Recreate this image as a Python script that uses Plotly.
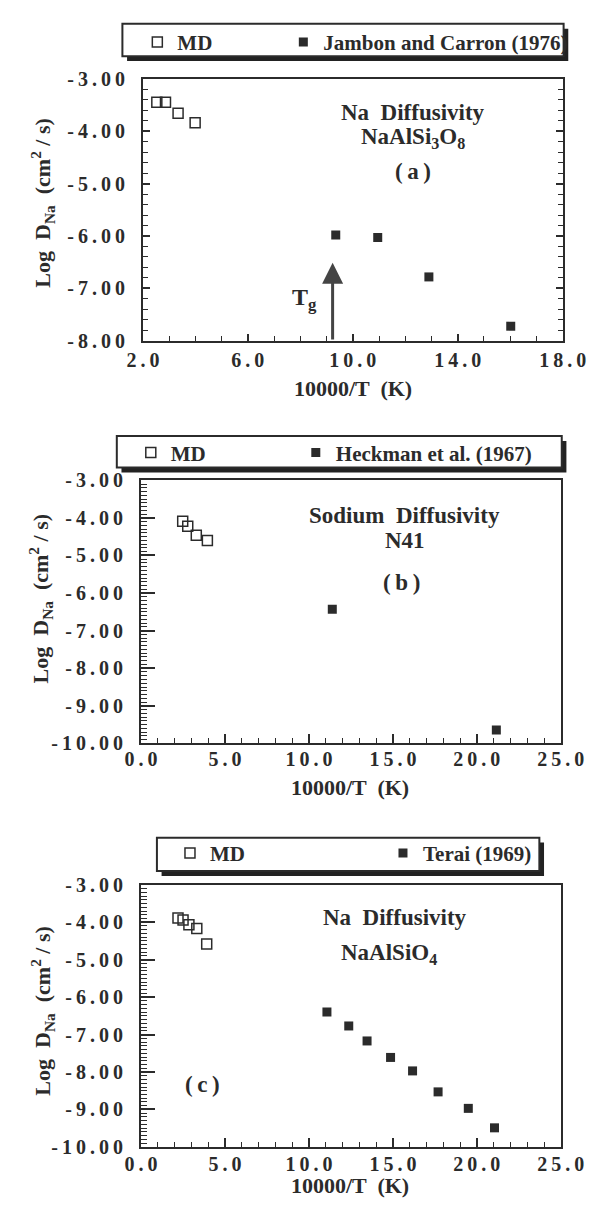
import plotly.graph_objects as go

W, H = 610, 1208
THIN = "\u2009"
FONT = "Liberation Serif, Times New Roman, serif"
INK = "#2b2b2b"

# ---------------- data ----------------
# Panel (a): NaAlSi3O8
A_MD_X = [2.53, 2.86, 3.34, 3.99]
A_MD_Y = [-3.45, -3.45, -3.66, -3.84]
A_EXP_X = [9.35, 10.95, 12.90, 16.02]
A_EXP_Y = [-5.98, -6.03, -6.78, -7.72]
A_EXP_NAME = "Jambon and Carron (1976)"
A_TG_X = 9.23
A_TG_TIP_Y = -6.51
A_XTICKS = [2, 6, 10, 14, 18]
A_XTICKTEXT = ["2.0", "6.0", "10.0", "14.0", "18.0"]
A_YTICKS = [-3, -4, -5, -6, -7, -8]
A_YTICKTEXT = ["-3.00", "-4.00", "-5.00", "-6.00", "-7.00", "-8.00"]

# Panel (b): N41
B_MD_X = [2.48, 2.78, 3.29, 3.95]
B_MD_Y = [-4.09, -4.22, -4.46, -4.60]
B_EXP_X = [11.39, 21.16]
B_EXP_Y = [-6.43, -9.64]
B_EXP_NAME = "Heckman et al. (1967)"

# Panel (c): NaAlSiO4
C_MD_X = [2.20, 2.50, 2.85, 3.32, 3.91]
C_MD_Y = [-3.89, -3.94, -4.07, -4.17, -4.58]
C_EXP_X = [11.07, 12.37, 13.46, 14.86, 16.17, 17.69, 19.49, 21.05]
C_EXP_Y = [-6.40, -6.77, -7.17, -7.61, -7.97, -8.53, -8.97, -9.49]
C_EXP_NAME = "Terai (1969)"

BC_XTICKS = [0, 5, 10, 15, 20, 25]
BC_XTICKTEXT = ["0.0", "5.0", "10.0", "15.0", "20.0", "25.0"]
BC_YTICKS = [-3, -4, -5, -6, -7, -8, -9, -10]
BC_YTICKTEXT = ["-3.00", "-4.00", "-5.00", "-6.00", "-7.00", "-8.00", "-9.00", "-10.00"]


def spaced(s):
    return THIN.join(s)


def px(x):
    return x / W


def py(y):
    return 1 - y / H


fig = go.Figure()

open_marker = dict(symbol="square-open", size=10, color=INK, line=dict(width=1.5, color=INK))
fill_marker = dict(symbol="square", size=9, color=INK, line=dict(width=0))

panels = [
    ("x", "y", "legend", A_MD_X, A_MD_Y, A_EXP_X, A_EXP_Y, A_EXP_NAME, 101),
    ("x2", "y2", "legend2", B_MD_X, B_MD_Y, B_EXP_X, B_EXP_Y, B_EXP_NAME, 120),
    ("x3", "y3", "legend3", C_MD_X, C_MD_Y, C_EXP_X, C_EXP_Y, C_EXP_NAME, 168),
]
for xa, ya, lg, mx, my, ex, ey, en, lw in panels:
    fig.add_trace(go.Scatter(x=mx, y=my, mode="markers", name="MD", marker=open_marker,
                             xaxis=xa, yaxis=ya, legend=lg, legendwidth=lw))
    fig.add_trace(go.Scatter(x=ex, y=ey, mode="markers", name=en, marker=fill_marker,
                             xaxis=xa, yaxis=ya, legend=lg))

tickfont = dict(family=FONT, size=20, color=INK, weight="bold")


def xaxis(dom, rng, tv, tt, standoff, majlen):
    return dict(domain=[px(dom[0]), px(dom[1])], range=rng, tickmode="array",
                tickvals=tv, ticktext=[spaced(t) for t in tt], ticks="inside",
                ticklen=majlen, tickwidth=1.5, tickcolor=INK,
                minor=dict(dtick=1, tick0=0, ticks="inside", ticklen=5, tickwidth=1.2, tickcolor=INK),
                showline=True, linewidth=2, linecolor=INK, mirror=True,
                showgrid=False, zeroline=False, tickfont=tickfont,
                ticklabelstandoff=standoff, fixedrange=True)


def yaxis(dom, rng, tv, tt, minor_dt, majlen, minlen, mirror, anchor):
    return dict(domain=[py(dom[1]), py(dom[0])], range=rng, tickmode="array",
                tickvals=tv, ticktext=[spaced(t) for t in tt], ticks="inside",
                ticklen=majlen, tickwidth=1.5, tickcolor=INK,
                minor=dict(dtick=minor_dt, tick0=0, ticks="inside", ticklen=minlen,
                           tickwidth=1.2, tickcolor=INK),
                showline=True, linewidth=2, linecolor=INK, mirror=mirror,
                showgrid=False, zeroline=False, tickfont=tickfont,
                ticklabelstandoff=12, anchor=anchor, fixedrange=True)


A_DOM_X, A_DOM_Y = (135, 585), (69, 336)
B_DOM_X, B_DOM_Y = (133, 583), (478, 746)
C_DOM_X, C_DOM_Y = (133, 583), (890, 1157)

fig.update_layout(
    xaxis=dict(xaxis(A_DOM_X, [2, 18], A_XTICKS, A_XTICKTEXT, 0, 7), anchor="y"),
    yaxis=yaxis(A_DOM_Y, [-8, -3], A_YTICKS, A_YTICKTEXT, 0.2, 7, 5, "ticks", "x"),
    xaxis2=dict(xaxis(B_DOM_X, [0, 25], BC_XTICKS, BC_XTICKTEXT, -3, 9), anchor="y2"),
    yaxis2=yaxis(B_DOM_Y, [-10, -3], BC_YTICKS, BC_YTICKTEXT, 0.1, 14, 6, True, "x2"),
    xaxis3=dict(xaxis(C_DOM_X, [0, 25], BC_XTICKS, BC_XTICKTEXT, -2, 9), anchor="y3"),
    yaxis3=yaxis(C_DOM_Y, [-10, -3], BC_YTICKS, BC_YTICKTEXT, 0.1, 14, 6, True, "x3"),
)

legfont = dict(family=FONT, size=21, color=INK, weight="bold")


def legend(x0, yc):
    return dict(orientation="h", x=px(x0), y=py(yc), xanchor="left", yanchor="middle",
                bgcolor="rgba(0,0,0,0)", borderwidth=0, font=legfont,
                itemclick=False, itemdoubleclick=False)


fig.update_layout(
    legend=legend(129, 32),
    legend2=legend(122, 450),
    legend3=legend(164, 858),
)

# legend boxes with drop shadow
shapes = []
for (x0, x1, y0, y1) in [(113, 586, 13, 46), (107, 584, 433, 465), (150, 560, 842, 876)]:
    shapes.append(dict(type="rect", xref="paper", yref="paper", layer="below",
                       x0=px(x0 + 5), x1=px(x1 + 5), y0=py(y1 + 5), y1=py(y0 + 5),
                       fillcolor="#222", line=dict(width=0)))
    shapes.append(dict(type="rect", xref="paper", yref="paper", layer="below",
                       x0=px(x0), x1=px(x1), y0=py(y1), y1=py(y0),
                       fillcolor="white", line=dict(width=2, color=INK)))
fig.update_layout(shapes=shapes)

ann = []


def text(x, y, s, size, **kw):
    d = dict(x=px(x), y=py(y), xref="paper", yref="paper", text=s, showarrow=False,
             font=dict(family=FONT, size=size, color=INK, weight="bold"),
             xanchor="center", yanchor="middle")
    d.update(kw)
    ann.append(d)


YTITLE = "Log  D<sub>Na</sub>  (cm<sup>2</sup> / s)"
XTITLE = "10000/T  (K)"

# panel (a)
text(425, 103, "Na  Diffusivity", 23)
text(425, 129, "NaAlSi<sub>3</sub>O<sub>8</sub>", 23)
text(425, 163, spaced("(a)"), 23)
text(308, 293, "T<sub>g</sub>", 24)
text(360, 384, XTITLE, 22)
text(27, 195, YTITLE, 22, textangle=-90)
# panel (b)
text(415, 514, "Sodium  Diffusivity", 23)
text(416, 539, "N41", 23)
text(412, 582, spaced("(b)"), 23)
text(357, 791, XTITLE, 22)
text(25, 598, YTITLE, 22, textangle=-90)
# panel (c)
text(405, 923, "Na  Diffusivity", 23)
text(399, 961, "NaAlSiO<sub>4</sub>", 23)
text(199, 1093, spaced("(c)"), 23)
text(357, 1196, XTITLE, 22)
text(27, 1018, YTITLE, 22, textangle=-90)

# Tg arrow in panel (a)
ann.append(dict(x=A_TG_X, y=A_TG_TIP_Y, ax=A_TG_X, ay=-8, xref="x", yref="y",
                axref="x", ayref="y", text="", showarrow=True, arrowhead=2,
                arrowsize=1.4, arrowwidth=3, arrowcolor="#444", standoff=0, startstandoff=0))

fig.update_layout(annotations=ann)

fig.update_layout(width=W, height=H, autosize=False,
                  margin=dict(l=0, r=0, t=0, b=0, pad=0),
                  paper_bgcolor="white", plot_bgcolor="white",
                  showlegend=True)

fig.write_html("out.html")
